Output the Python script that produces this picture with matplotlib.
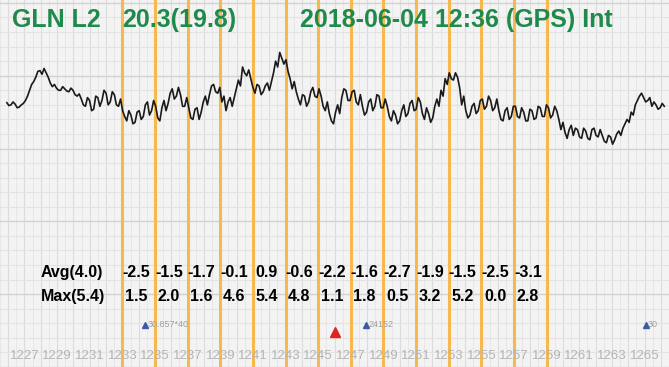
import numpy as np
import matplotlib.pyplot as plt

plt.rcParams['font.family'] = ['Liberation Sans', 'DejaVu Sans']

# phase trace, sampled at a fixed rate from 1225.92
trace = [
    18.15, 17.95, 18.0, 18.2, 18.05, 17.8, 17.85, 18.0, 18.1, 18.3,
    18.6, 19.0, 19.4, 19.6, 19.9, 20.3, 20.35, 20.1, 20.5, 20.2,
    19.9, 19.5, 19.25, 19.4, 19.15, 19.0, 19.0, 19.25, 19.1, 18.95,
    18.9, 19.15, 19.0, 18.7, 18.6, 18.75, 18.4, 18.0, 17.9, 18.5,
    18.3, 17.6, 17.7, 18.6, 18.5, 17.9, 18.3, 19.0, 18.8, 18.0,
    18.2, 18.9, 18.7, 18.0, 17.9, 18.4, 17.6, 17.2, 16.9, 17.6,
    17.3, 16.7, 16.8, 17.5, 17.6, 17.0, 17.2, 18.0, 18.2, 17.3,
    17.6, 18.3, 17.9, 17.1, 16.9, 17.8, 18.3, 17.6, 18.1, 18.8,
    19.1, 18.4, 18.6, 19.2, 18.7, 17.9, 17.9, 18.5, 17.8, 17.1,
    17.0, 17.7, 17.8, 17.0, 17.5, 18.2, 18.6, 18.0, 18.7, 19.3,
    19.4, 18.9, 18.8, 19.2, 18.2, 18.6, 17.6, 18.2, 18.5, 17.9,
    18.5, 19.1, 19.7, 19.3, 20.6, 20.2, 20.0, 20.4, 19.8, 19.2,
    18.8, 19.4, 19.3, 18.7, 18.9, 19.3, 19.5, 19.0, 19.6, 20.2,
    21.0, 20.6, 21.6, 21.2, 20.8, 21.1, 20.3, 19.8, 19.1, 19.6,
    18.9, 18.4, 18.0, 18.7, 18.6, 17.9, 18.2, 18.9, 19.2, 18.6,
    18.5, 19.1, 18.6, 17.9, 17.6, 18.2, 17.4, 16.9, 16.7, 17.5,
    18.0, 17.4, 18.5, 19.1, 19.0, 18.3, 18.3, 18.9, 19.0, 18.2,
    18.0, 18.7, 17.9, 17.3, 17.5, 18.2, 18.4, 17.6, 17.9, 18.7,
    18.6, 17.8, 17.8, 18.4, 17.9, 17.2, 16.9, 17.6, 17.3, 16.7,
    16.9, 17.6, 18.0, 17.2, 17.4, 18.1, 18.3, 17.6, 17.7, 18.5,
    18.2, 17.4, 17.0, 17.8, 17.4, 16.8, 17.1, 17.9, 18.4, 17.9,
    19.0, 18.6, 19.8, 19.4, 20.2, 19.8, 19.7, 20.2, 19.9, 19.2,
    18.0, 18.6, 17.6, 17.1, 17.3, 17.9, 18.1, 17.4, 17.6, 18.3,
    18.4, 17.7, 17.9, 18.6, 18.3, 17.6, 17.8, 18.4, 17.6, 17.0,
    16.9, 17.6, 17.8, 17.0, 17.2, 17.9, 17.9, 17.2, 17.1, 17.8,
    17.5, 16.9, 16.9, 17.7, 17.6, 17.0, 17.1, 17.9, 17.8, 17.2,
    17.2, 18.0, 17.8, 17.1, 17.3, 17.9, 17.6, 17.0, 16.3, 16.8,
    16.1, 15.7, 16.3, 16.6, 15.9, 16.4, 16.3, 15.8, 15.7, 16.4,
    16.2, 15.7, 15.6, 16.3, 16.4, 15.9, 15.8, 16.3, 15.9, 15.5,
    15.4, 15.9, 15.8, 15.3, 15.6, 16.0, 16.2, 15.9, 16.4, 16.7,
    17.0, 16.8, 17.5, 17.3, 18.0, 18.3, 18.6, 18.8, 18.5, 18.2,
    18.3, 18.5, 17.9, 18.2, 18.0, 17.7, 17.8, 18.1, 17.9,
]
t = 1225.92 + 0.1267 * np.arange(len(trace))

# interval boundaries and per-interval stats
bounds = list(range(1233, 1260, 2))
avg_vals = [-2.5, -1.5, -1.7, -0.1, 0.9, -0.6, -2.2, -1.6, -2.7, -1.9, -1.5, -2.5, -3.1]
max_vals = [1.5, 2.0, 1.6, 4.6, 5.4, 4.8, 1.1, 1.8, 0.5, 3.2, 5.2, 0.0, 2.8]

tick_vals = list(range(1227, 1266, 2))

# satellite markers
blue_x = [1234.41, 1247.93, 1265.06]
blue_lbl = ['30.857*40', '24152', '30']
red_x = [1246.05]

fig = plt.figure(figsize=(6.69, 3.67), dpi=100)
ax = fig.add_axes([0, 0, 1, 1])
ax.set_facecolor('#f3f3f3')
ax.set_xlim(1225.8, 1266.15)
ax.set_ylim(0.06, 25.2)

ax.set_xticks(np.arange(1226, 1267, 1))
ax.set_xticks(np.arange(1225.5, 1267, 1), minor=True)
ax.set_yticks(np.arange(0, 26, 5))
ax.set_yticks(np.arange(0, 26, 1), minor=True)
ax.xaxis.grid(True, which='major', color='#dcdcdc', lw=0.8)
ax.xaxis.grid(True, which='minor', color='#e6e6e6', lw=0.7)
ax.yaxis.grid(True, which='major', color='#d2d2d2', lw=1.0)
ax.yaxis.grid(True, which='minor', color='#e3e3e3', lw=0.8)
ax.set_axisbelow(True)
ax.tick_params(which='both', length=0, labelbottom=False, labelleft=False)
for s in ax.spines.values():
    s.set_visible(False)

for b in bounds:
    ax.axvline(b, color='#f7b84e', lw=2.2, zorder=3)

ax.plot(t, trace, color='#1a1a1a', lw=1.2, zorder=4)

green = '#1f8a4c'
ax.text(12 / 669, 1 - 20 / 367, 'GLN L2', transform=ax.transAxes, color=green,
        fontsize=18, fontweight='bold', va='center', zorder=5)
ax.text(122 / 669, 1 - 20 / 367, '20.3(19.8)', transform=ax.transAxes, color=green,
        fontsize=18, fontweight='bold', va='center', zorder=5)
ax.text(300 / 669, 1 - 20 / 367, '2018-06-04 12:36 (GPS) Int', transform=ax.transAxes,
        color=green, fontsize=18, fontweight='bold', va='center', zorder=5)

ax.text(41 / 669, 6.5, 'Avg(4.0)', transform=ax.get_yaxis_transform(), fontsize=11.5,
        fontweight='bold', va='center', zorder=5)
ax.text(41 / 669, 4.86, 'Max(5.4)', transform=ax.get_yaxis_transform(), fontsize=11.5,
        fontweight='bold', va='center', zorder=5)
for b, a, m in zip(bounds, avg_vals, max_vals):
    ax.text(b + 0.85, 6.5, f'{a:.1f}', ha='center', va='center', fontsize=11.5,
            fontweight='bold', zorder=5)
    ax.text(b + 0.85, 4.86, f'{m:.1f}', ha='center', va='center', fontsize=11.5,
            fontweight='bold', zorder=5)

for x, lbl in zip(blue_x, blue_lbl):
    ax.plot(x, 2.89, marker='^', color='#3c5aa6', ms=4.5, zorder=5)
    ax.text(x + 0.15, 2.95, lbl, fontsize=6.5, color='#a0a0a0', va='center', zorder=5)
for x in red_x:
    ax.plot(x, 2.37, marker='^', color='#e02424', ms=7, zorder=5)

for v in tick_vals:
    ax.text(v, 0.75, str(v), ha='center', va='center', fontsize=9.5,
            color='#b4b4b4', zorder=5)

fig.savefig('out.png', dpi=100)
